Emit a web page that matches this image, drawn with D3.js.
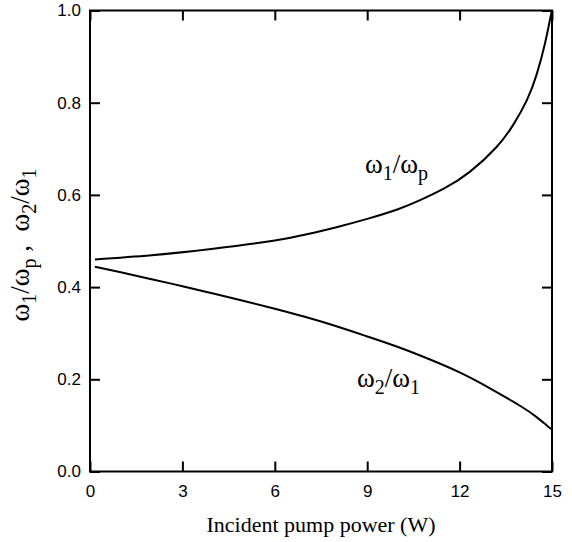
<!DOCTYPE html>
<html>
<head>
<meta charset="utf-8">
<script src="https://cdn.jsdelivr.net/npm/d3@7"></script>
<style>
  body { margin: 0; background: #fff; }
  svg { display: block; }
</style>
</head>
<body>
<div id="plotDiv"></div>
<script>
// values
var powerUp = [0.16, 2, 4, 6, 7, 8, 9, 10, 10.7, 11.5, 12.33, 13.2, 13.75, 14.18, 14.5, 14.77, 14.94, 15];
var ratioUp = [0.460, 0.469, 0.483, 0.501, 0.514, 0.530, 0.548, 0.569, 0.588, 0.614, 0.650, 0.704, 0.753, 0.805, 0.861, 0.928, 0.982, 1.0];

var powerLow = [0.16, 1, 2, 3, 4, 5, 6, 7, 8, 9, 10, 11, 12, 13, 14, 14.5, 14.83, 15];
var ratioLow = [0.444, 0.432, 0.417, 0.402, 0.386, 0.370, 0.353, 0.335, 0.315, 0.293, 0.270, 0.244, 0.215, 0.180, 0.141, 0.118, 0.100, 0.091];

var xTicks = [0, 3, 6, 9, 12, 15];
var yTicks = [0, 0.2, 0.4, 0.6, 0.8, 1.0];

window.addEventListener("load", makeChart);

function makeChart() {
    var width = 572, height = 542;
    var margin = {top: 10.5, right: 20, bottom: 70.5, left: 90};
    var w = width - margin.left - margin.right;
    var h = height - margin.top - margin.bottom;

    var svg = d3.select("#plotDiv")
        .append("svg")
        .attr("width", width)
        .attr("height", height);

    var g = svg.append("g")
        .attr("transform", "translate(" + margin.left + "," + margin.top + ")");

    var x = d3.scaleLinear().domain([0, 15]).range([0, w]);
    var y = d3.scaleLinear().domain([0, 1]).range([h, 0]);

    var styleAxis = function(sel) {
        sel.select(".domain").remove();
        sel.selectAll(".tick line").attr("stroke", "#000").attr("stroke-width", 2);
        sel.selectAll("text")
            .attr("fill", "#000")
            .style("font-family", "'Liberation Sans', Arial, sans-serif")
            .style("font-size", "17px");
    };

    g.append("g")
        .attr("transform", "translate(0," + h + ")")
        .call(d3.axisBottom(x).tickValues(xTicks).tickSize(-10).tickPadding(13.5).tickFormat(d3.format("d")))
        .call(styleAxis);

    g.append("g")
        .call(d3.axisTop(x).tickValues(xTicks).tickSize(-10).tickFormat(""))
        .call(styleAxis);

    g.append("g")
        .call(d3.axisLeft(y).tickValues(yTicks).tickSize(-10).tickPadding(9).tickFormat(d3.format(".1f")))
        .call(styleAxis);

    g.append("g")
        .attr("transform", "translate(" + w + ",0)")
        .call(d3.axisRight(y).tickValues(yTicks).tickSize(-10).tickFormat(""))
        .call(styleAxis);

    g.append("rect")
        .attr("width", w)
        .attr("height", h)
        .attr("fill", "none")
        .attr("stroke", "#000")
        .attr("stroke-width", 2);

    var line = d3.line()
        .x(function(d) { return x(d[0]); })
        .y(function(d) { return y(d[1]); })
        .curve(d3.curveNatural);

    g.append("path")
        .datum(d3.zip(powerUp, ratioUp))
        .attr("d", line)
        .attr("fill", "none")
        .attr("stroke", "#000")
        .attr("stroke-width", 2);

    g.append("path")
        .datum(d3.zip(powerLow, ratioLow))
        .attr("d", line)
        .attr("fill", "none")
        .attr("stroke", "#000")
        .attr("stroke-width", 2);

    // text with subscripts
    var serif = "'Liberation Serif', 'Times New Roman', serif";
    var addLabel = function(parent, parts) {
        var t = parent.append("text")
            .style("font-family", serif)
            .style("font-size", "27px")
            .style("white-space", "pre")
            .attr("fill", "#000");
        var down = false;
        parts.forEach(function(p) {
            var s = t.append("tspan").text(p[0]);
            if (p[1] && !down) { s.attr("dy", 7).style("font-size", "20px"); down = true; }
            else if (p[1]) { s.style("font-size", "20px"); }
            else if (down) { s.attr("dy", -7); down = false; }
        });
        return t;
    };

    addLabel(svg, [["ω"], ["1", true], ["/ω"], ["p", true]])
        .attr("x", 365).attr("y", 173);

    addLabel(svg, [["ω"], ["2", true], ["/ω"], ["1", true]])
        .attr("x", 357).attr("y", 387);

    addLabel(svg, [["ω"], ["1", true], ["/ω"], ["p", true], [" ,  ω"], ["2", true], ["/ω"], ["1", true]])
        .attr("text-anchor", "middle")
        .attr("transform", "translate(29," + (margin.top + h / 2 + 4) + ") rotate(-90)");

    svg.append("text")
        .attr("x", margin.left + w / 2)
        .attr("y", 532)
        .attr("text-anchor", "middle")
        .style("font-family", serif)
        .style("font-size", "22px")
        .attr("fill", "#000")
        .text("Incident pump power (W)");
}
</script>
</body>
</html>
